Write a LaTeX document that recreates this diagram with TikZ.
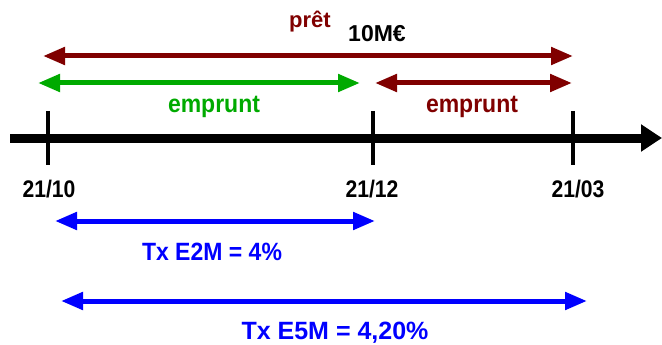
\documentclass[tikz,border=0pt]{standalone}
\usepackage{fontspec}
\setmainfont{Liberation Sans}
\newfontfamily\narrowfont[FakeStretch=0.88]{Liberation Sans}
\newfontfamily\midfont[FakeStretch=0.92]{Liberation Sans}
\usetikzlibrary{arrows.meta}
\definecolor{dred}{RGB}{128,0,0}
\definecolor{dgreen}{RGB}{0,170,0}
\definecolor{bblue}{RGB}{0,0,255}
\tikzset{
  span/.style={line width=5pt, {Triangle[length=22pt,width=17pt]}-{Triangle[length=22pt,width=17pt]}},
  axis/.style={line width=9pt, -{Triangle[length=21pt,width=26pt]}},
  tick/.style={line width=3.5pt},
  lbl/.style={anchor=base, inner sep=0pt, font=\fontsize{25}{28}\selectfont\bfseries},
  midlbl/.style={anchor=base, inner sep=0pt, font=\fontsize{25}{28}\selectfont\midfont\bfseries},
  datelbl/.style={anchor=base, inner sep=0pt, font=\fontsize{24}{27}\selectfont\narrowfont\bfseries},
}
\begin{document}
\begin{tikzpicture}[x=1pt,y=-1pt]
\useasboundingbox (0,0) rectangle (662,345);
% axis
\coordinate (a0) at (10,138);
\coordinate (a1) at (662,138);
\draw[axis] (a0) -- (a1);
% ticks
\coordinate (t1a) at (48,111); \coordinate (t1b) at (48,165);
\coordinate (t2a) at (373,111); \coordinate (t2b) at (373,165);
\coordinate (t3a) at (573,111); \coordinate (t3b) at (573,165);
\draw[tick] (t1a) -- (t1b);
\draw[tick] (t2a) -- (t2b);
\draw[tick] (t3a) -- (t3b);
% dates
\node[datelbl] (d1) at (49,197) {21/10};
\node[datelbl] (d2) at (372,197) {21/12};
\node[datelbl] (d3) at (578,197) {21/03};
% pret
\coordinate (p0) at (43,56);
\coordinate (p1) at (573,56);
\draw[span, dred] (p0) -- (p1);
\node[lbl, text=dred, font=\fontsize{22}{25}\selectfont\bfseries] (pret) at (310,28) {prêt};
\node[lbl, font=\fontsize{23}{26}\selectfont\bfseries] (amt) at (377,42) {10M€};
% emprunts
\coordinate (g0) at (38,83);
\coordinate (g1) at (360,83);
\draw[span, dgreen] (g0) -- (g1);
\node[midlbl, text=dgreen] (eg) at (214,113) {emprunt};
\coordinate (r0) at (375,83);
\coordinate (r1) at (572,83);
\draw[span, dred] (r0) -- (r1);
\node[midlbl, text=dred] (er) at (472,113) {emprunt};
% blue rates
\coordinate (b0) at (55,221);
\coordinate (b1) at (375,221);
\draw[span, bblue] (b0) -- (b1);
\node[midlbl, text=bblue] (tx2) at (212,260) {Tx E2M = 4\%};
\coordinate (c0) at (61,301);
\coordinate (c1) at (587,301);
\draw[span, bblue] (c0) -- (c1);
\node[lbl, text=bblue] (tx5) at (335,339) {Tx E5M = 4,20\%};
\end{tikzpicture}
\end{document}
